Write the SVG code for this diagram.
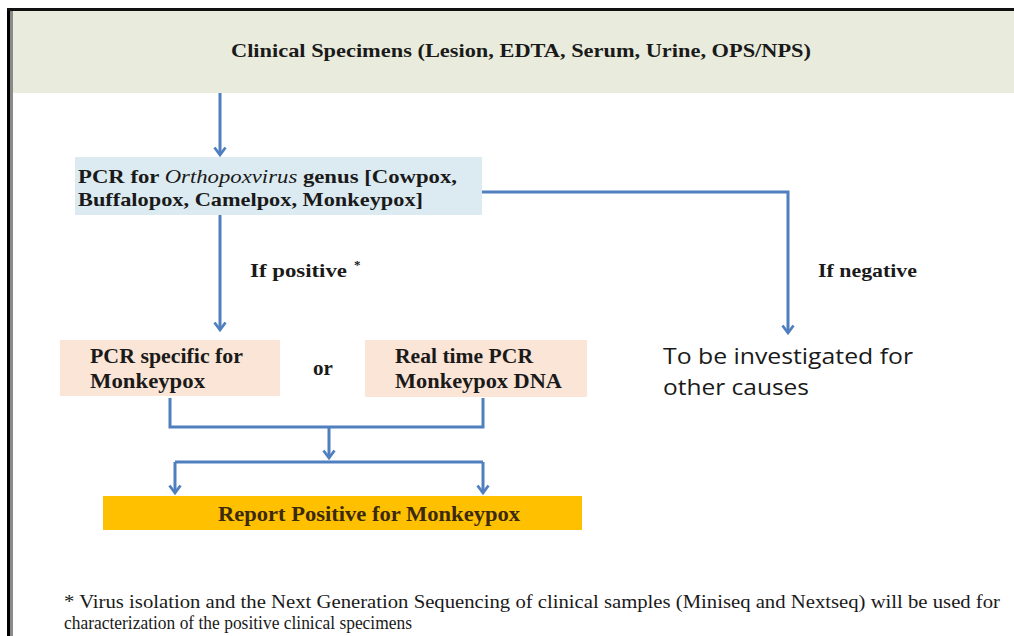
<svg xmlns="http://www.w3.org/2000/svg" width="1014" height="636" viewBox="0 0 1014 636">
<style>
.s{font-family:"Liberation Serif","Times New Roman",serif;font-weight:bold;fill:#1a1a1a}
.n{font-family:"Liberation Serif","Times New Roman",serif;fill:#1a1a1a}
.o{font-family:"Open Sans","Liberation Sans",sans-serif;fill:#1a1a1a;font-size:21.5px}
.c{fill:none;stroke:#4f7fbf;stroke-width:3}
.a{marker-end:url(#ah)}
</style>
<defs>
<marker id="ah" viewBox="0 0 12 14" refX="9" refY="7" markerWidth="12" markerHeight="14" markerUnits="userSpaceOnUse" orient="auto">
<path d="M1.5,1.5 L9,7 L1.5,12.5" fill="none" stroke="#4f7fbf" stroke-width="2.8"/>
</marker>
</defs>
<rect width="1014" height="636" fill="#ffffff"/>
<rect x="7" y="9" width="3" height="627" fill="#000"/>
<rect x="10" y="11" width="3" height="625" fill="#8a8a8a"/>
<rect x="7" y="8" width="1007" height="3" fill="#111"/>
<g id="header">
<rect x="13" y="11" width="1001" height="82" fill="#e9ecdc"/>
<text class="s" x="231" y="57" font-size="19.5" textLength="580" lengthAdjust="spacingAndGlyphs">Clinical Specimens (Lesion, EDTA, Serum, Urine, OPS/NPS)</text>
</g>
<g id="pcr-genus">
<rect x="75" y="157" width="407" height="58" fill="#dcebf1"/>
<text class="s" x="78" y="183" font-size="19" textLength="379" lengthAdjust="spacingAndGlyphs">PCR for <tspan font-style="italic" font-weight="normal">Orthopoxvirus</tspan> genus [Cowpox,</text>
<text class="s" x="78" y="206" font-size="19" textLength="345" lengthAdjust="spacingAndGlyphs">Buffalopox, Camelpox, Monkeypox]</text>
</g>
<g id="pcr-specific">
<rect x="60" y="340" width="220" height="56" fill="#fbe5d6"/>
<text class="s" x="90" y="363" font-size="20" textLength="153" lengthAdjust="spacingAndGlyphs">PCR specific for</text>
<text class="s" x="90" y="388" font-size="20" textLength="115" lengthAdjust="spacingAndGlyphs">Monkeypox</text>
</g>
<text class="s" x="323" y="375" font-size="21" text-anchor="middle">or</text>
<g id="realtime-pcr">
<rect x="365" y="340" width="222" height="57" fill="#fbe5d6"/>
<text class="s" x="395" y="363" font-size="20" textLength="138" lengthAdjust="spacingAndGlyphs">Real time PCR</text>
<text class="s" x="395" y="388" font-size="20" textLength="167" lengthAdjust="spacingAndGlyphs">Monkeypox DNA</text>
</g>
<g id="report">
<rect x="103" y="496" width="479" height="34" fill="#ffc000"/>
<text x="218" y="521" font-size="20" font-family="Liberation Serif, serif" font-weight="bold" fill="#3b2a0c" textLength="302" lengthAdjust="spacingAndGlyphs">Report Positive for Monkeypox</text>
</g>
<g id="other-causes">
<text class="o" x="663" y="364" textLength="250" lengthAdjust="spacingAndGlyphs">To be investigated for</text>
<text class="o" x="663" y="395" textLength="146" lengthAdjust="spacingAndGlyphs">other causes</text>
</g>
<g id="connectors">
<path class="c a" d="M220,93 V155"/>
<path class="c a" d="M220,215 V330"/>
<path class="c a" d="M482,192 H788 V333"/>
<path class="c" d="M170,398 V427 H483 V398"/>
<path class="c a" d="M329,427 V458"/>
<path class="c" d="M175,462 H483"/>
<path class="c a" d="M175,462 V493"/>
<path class="c a" d="M483,462 V493"/>
</g>
<text class="s" x="250" y="277" font-size="19.5"><tspan textLength="97" lengthAdjust="spacingAndGlyphs">If positive</tspan><tspan x="354" y="269" font-size="13">*</tspan></text>
<text class="s" x="818" y="277" font-size="19.5" textLength="99" lengthAdjust="spacingAndGlyphs">If negative</text>
<g id="footnote">
<text class="n" x="64" y="608" font-size="19" textLength="936" lengthAdjust="spacingAndGlyphs">* Virus isolation and the Next Generation Sequencing of clinical samples (Miniseq and Nextseq) will be used for</text>
<text class="n" x="64" y="629" font-size="19" textLength="348" lengthAdjust="spacingAndGlyphs">characterization of the positive clinical specimens</text>
</g>
</svg>
